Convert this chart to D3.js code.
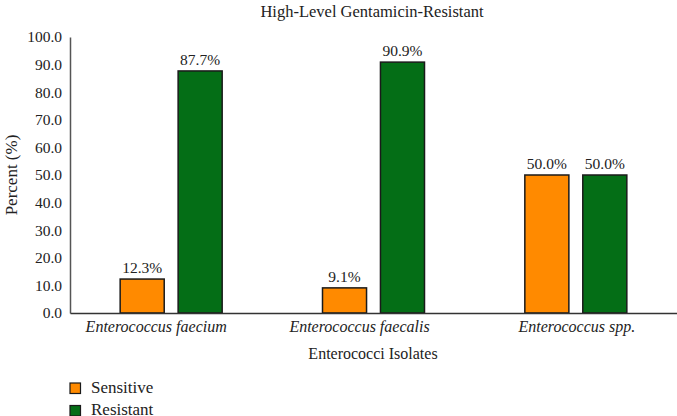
<!DOCTYPE html>
<html>
<head>
<meta charset="utf-8">
<script src="https://cdn.jsdelivr.net/npm/d3@7"></script>
<style>
  body { margin: 0; background: #fff; }
</style>
</head>
<body>
<svg id="chart" width="677" height="416" font-family="Liberation Serif"></svg>
<script>
const categories = ['Enterococcus faecium', 'Enterococcus faecalis', 'Enterococcus spp.'];
const seriesNames = ['Sensitive', 'Resistant'];
const sensitive = [12.3, 9.1, 50.0];
const resistant = [87.7, 90.9, 50.0];
const yTicks = [0, 10, 20, 30, 40, 50, 60, 70, 80, 90, 100];
const colors = ['#FF8A00', '#046E16'];

const FONT = 'Liberation Serif';
const TEXT = '#222';
// the category labels in the source sit a little left of their groups
const labelShift = [-15, -14, 1];

const svg = d3.select('#chart');
const margin = { top: 37, right: 0, bottom: 103, left: 70 };
const width = 677;
const height = 416;

const x = d3.scaleBand().domain(categories).range([margin.left, width - margin.right]);
const inner = d3.scaleBand().domain(seriesNames).range([x.bandwidth() / 2 - 51, x.bandwidth() / 2 + 51]).paddingInner(0.24);
const y = d3.scaleLinear().domain([0, 100]).range([height - margin.bottom, margin.top]);

const rows = categories.map((c, i) => ({ cat: c, vals: [sensitive[i], resistant[i]] }));

// bars
const groups = svg.append('g').selectAll('g')
  .data(rows)
  .join('g')
  .attr('transform', d => `translate(${x(d.cat)},0)`);

groups.selectAll('rect')
  .data(d => d.vals.map((v, j) => ({ key: seriesNames[j], v, j })))
  .join('rect')
  .attr('x', d => inner(d.key))
  .attr('width', inner.bandwidth())
  .attr('y', d => y(d.v))
  .attr('height', d => y(0) - y(d.v))
  .attr('fill', d => colors[d.j])
  .attr('stroke', '#1a1a1a')
  .attr('stroke-width', 1.5);

groups.selectAll('text.val')
  .data(d => d.vals.map((v, j) => ({ key: seriesNames[j], v })))
  .join('text')
  .attr('class', 'val')
  .attr('x', d => inner(d.key) + inner.bandwidth() / 2)
  .attr('y', d => y(d.v) - 6)
  .attr('text-anchor', 'middle')
  .attr('font-family', FONT)
  .attr('fill', TEXT)
  .attr('font-size', 15.5)
  .text(d => d.v.toFixed(1) + '%');

// y axis
const yAxis = svg.append('g')
  .attr('transform', `translate(${margin.left},0)`)
  .call(d3.axisLeft(y).tickValues(yTicks).tickFormat(d3.format('.1f')).tickSize(0).tickPadding(8))
  .attr('font-family', FONT);
yAxis.select('.domain').attr('stroke', '#555').attr('stroke-width', 1.5);
yAxis.selectAll('text').attr('font-size', 15.5).attr('fill', TEXT);

// x axis
const xAxis = svg.append('g')
  .attr('transform', `translate(0,${y(0)})`)
  .call(d3.axisBottom(x).tickSize(0).tickPadding(8))
  .attr('font-family', FONT);
xAxis.select('.domain').attr('stroke', '#333').attr('stroke-width', 1.5);
xAxis.selectAll('text').attr('font-size', 16).attr('font-style', 'italic').attr('fill', TEXT)
  .attr('dx', (d, i) => labelShift[i]);

// titles
svg.append('text').attr('x', 372).attr('y', 17).attr('text-anchor', 'middle')
  .attr('font-family', FONT).attr('fill', TEXT)
  .attr('font-size', 16.5).text('High-Level Gentamicin-Resistant');
svg.append('text').attr('x', 373).attr('y', 359).attr('text-anchor', 'middle')
  .attr('font-family', FONT).attr('fill', TEXT)
  .attr('font-size', 16).text('Enterococci Isolates');
svg.append('text').attr('transform', `translate(17,${(y(0) + y(100)) / 2}) rotate(-90)`)
  .attr('font-family', FONT).attr('fill', TEXT)
  .attr('text-anchor', 'middle').attr('font-size', 17).text('Percent (%)');

// legend
const legend = svg.append('g').attr('transform', 'translate(70,383)');
const items = legend.selectAll('g').data(seriesNames).join('g')
  .attr('transform', (d, i) => `translate(0,${i * 22.5})`);
items.append('rect').attr('width', 10.5).attr('height', 10.5)
  .attr('fill', (d, i) => colors[i]).attr('stroke', '#1a1a1a').attr('stroke-width', 1.2);
items.append('text').attr('x', 21).attr('y', 9.5).attr('font-size', 17)
  .attr('font-family', FONT).attr('fill', TEXT).text(d => d);
</script>
</body>
</html>
